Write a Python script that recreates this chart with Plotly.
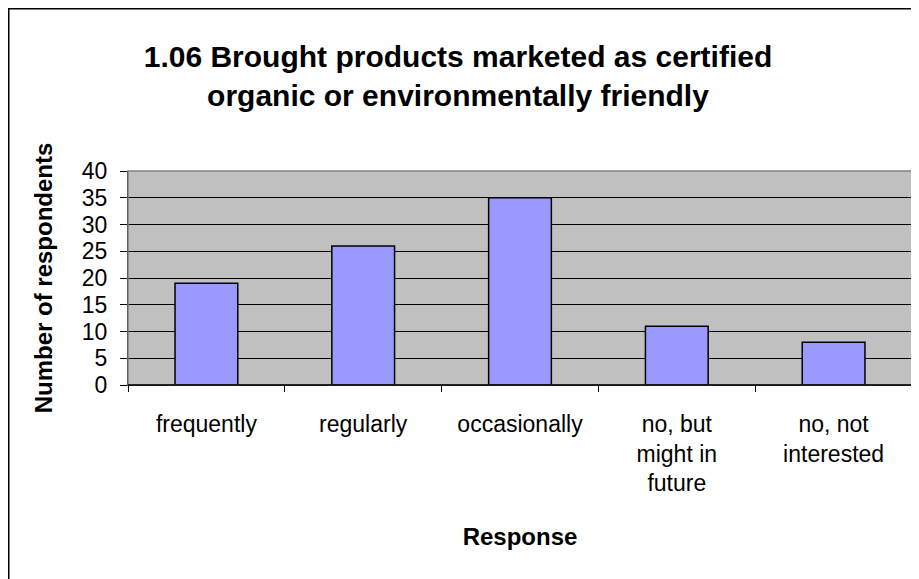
import plotly.graph_objects as go

categories = ["frequently", "regularly", "occasionally", "no, but<br>might in<br>future", "no, not<br>interested"]
values = [19, 26, 35, 11, 8]
y_ticks = [0, 5, 10, 15, 20, 25, 30, 35, 40]

title_text = "1.06 Brought products marketed as certified<br>organic or environmentally friendly"
x_title = "Response"
y_title = "Number of respondents"

# The page places the figure with an 8px body margin, so layout numbers are
# expressed relative to the figure's own origin.
W, H = 919, 579
ML, MT = 120, 163
PW, PH = 784, 214
MR = W - ML - PW
MB = H - MT - PH

FONT = "Liberation Sans, Arial, sans-serif"

fig = go.Figure(
    go.Bar(
        x=categories,
        y=values,
        marker=dict(color="#9999FF", line=dict(color="#000000", width=1.5)),
    )
)

fig.update_layout(
    width=W,
    height=H,
    margin=dict(l=ML, r=MR, t=MT, b=MB),
    paper_bgcolor="white",
    plot_bgcolor="#C0C0C0",
    bargap=0.6,
    showlegend=False,
    font=dict(family=FONT, color="black"),
    title=dict(
        text="<b>" + title_text + "</b>",
        x=(458 - 8) / W,
        xanchor="center",
        y=1 - 59 / H,
        yanchor="top",
        font=dict(size=30, family=FONT, color="black"),
    ),
)

fig.update_xaxes(
    type="category",
    tickson="boundaries",
    ticks="outside",
    ticklen=6,
    tickcolor="#000000",
    tickwidth=1,
    showline=True,
    linecolor="#000000",
    linewidth=1,
    mirror=False,
    showgrid=False,
    tickfont=dict(size=23, family=FONT, color="black"),
    ticklabelstandoff=18,
    title=dict(text="<b>" + x_title + "</b>", font=dict(size=24, family=FONT, color="black"), standoff=32),
)

fig.update_yaxes(
    range=[0, 40],
    tickvals=y_ticks,
    ticktext=[str(v) for v in y_ticks],
    ticks="outside",
    ticklen=7,
    tickcolor="#000000",
    tickwidth=1,
    showline=True,
    linecolor="#000000",
    linewidth=1,
    showgrid=True,
    gridcolor="#000000",
    gridwidth=1,
    zeroline=False,
    tickfont=dict(size=23, family=FONT, color="black"),
    ticklabelstandoff=8,
    title=dict(text="<b>" + y_title + "</b>", font=dict(size=24, family=FONT, color="black"), standoff=22),
)

# gray frame on top and right of plot area
fig.add_shape(type="rect", xref="paper", yref="paper", x0=0, x1=1, y0=0, y1=1,
              line=dict(color="#808080", width=1.5), fillcolor="rgba(0,0,0,0)", layer="above")
# bottom axis line in black over the frame
fig.add_shape(type="line", xref="paper", yref="paper", x0=0, x1=1, y0=0, y1=0,
              line=dict(color="#000000", width=1.5), layer="above")

# outer chart border (left and top edges visible)
fig.add_shape(type="rect", xref="paper", yref="paper",
              x0=(0.75 - ML) / PW, x1=(W + 10 - ML) / PW,
              y0=(PH + MT - H - 10) / PH, y1=(PH + MT - 0.75) / PH,
              line=dict(color="#000000", width=1.5), fillcolor="rgba(0,0,0,0)", layer="below")

fig.write_html("out.html")
